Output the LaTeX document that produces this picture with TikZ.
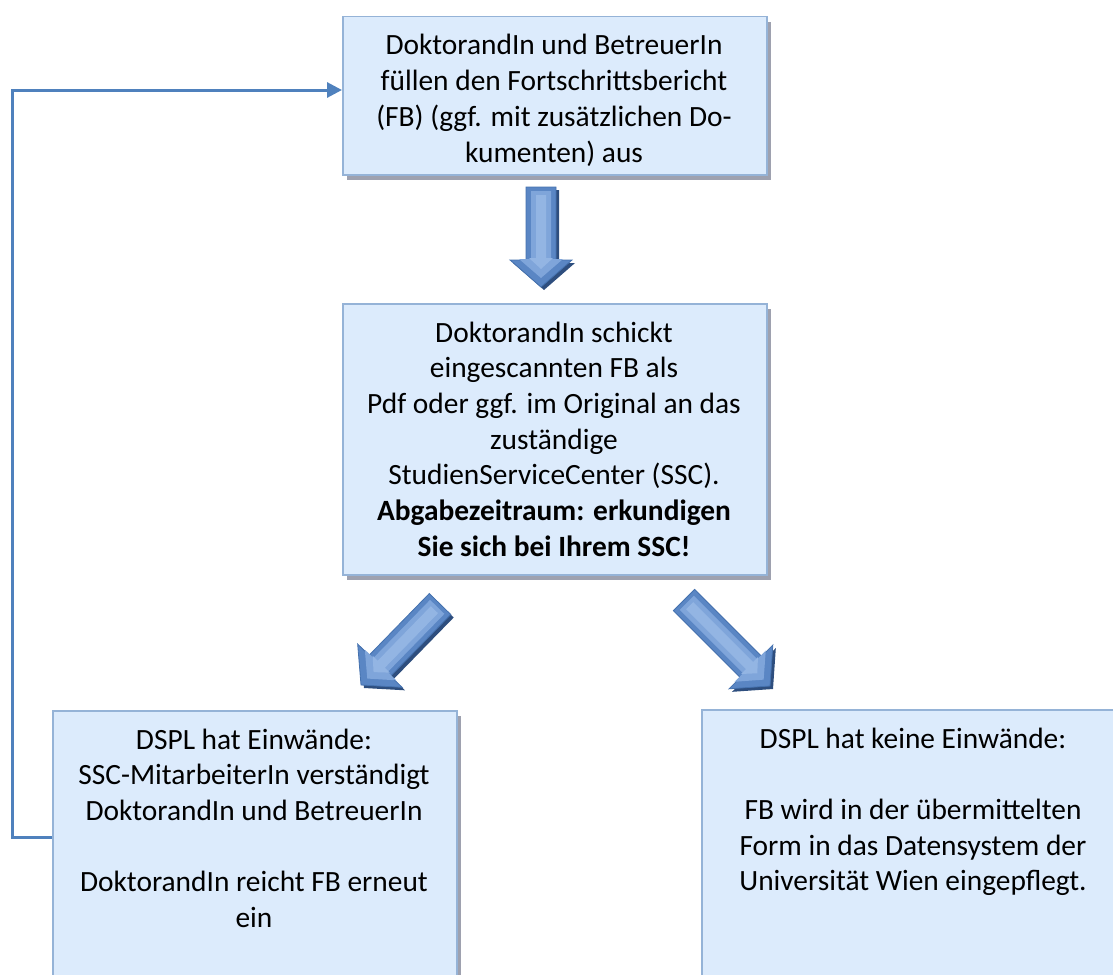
\documentclass[tikz,border=0pt]{standalone}
\usepackage{fontspec}
\setmainfont{Carlito}
\usetikzlibrary{shadows,arrows.meta,calc}
\definecolor{boxfill}{HTML}{DCEBFC}
\definecolor{boxdraw}{HTML}{95B3D7}
\definecolor{shadowgray}{HTML}{9EA1AF}
\definecolor{fbblue}{HTML}{4F81BD}
\definecolor{arrmid}{HTML}{5A86C4}
\definecolor{arrlight}{HTML}{7FA5DA}
\definecolor{arrlighter}{HTML}{93B5E3}
\definecolor{arredge}{HTML}{4471AE}
\definecolor{arrshadow}{HTML}{2E4E7E}
\tikzset{
  box/.style={draw=boxdraw, line width=1.5pt, fill=boxfill, rectangle, inner sep=0pt, anchor=north west,
    drop shadow={shadow xshift=4pt, shadow yshift=-5pt, fill=shadowgray, opacity=1}},
  txt/.style={anchor=base, inner sep=0pt, font=\fontsize{29.4}{35.7}\selectfont},
  fbline/.style={draw=fbblue, line width=3pt, -{Triangle[length=15pt,width=15pt]}},
  blockarrow/.style={draw=arredge, line width=0.8pt, fill=arrmid},
  blockhi/.style={fill=arrlight, draw=none},
  blockhi2/.style={fill=arrlighter, draw=none},
  blockshadow/.style={fill=arrshadow, draw=none}
}
% #1 tail, #2 tip, #3 shaft half width, #4 head half width, #5 head length
\newcommand{\blockarrowpath}[5]{%
  ($(#1)!#3!90:(#2)$) -- ($($(#2)!#5!(#1)$)!#3!-90:(#1)$) -- ($($(#2)!#5!(#1)$)!#4!-90:(#1)$) -- (#2)
  -- ($($(#2)!#5!(#1)$)!#4!90:(#1)$) -- ($($(#2)!#5!(#1)$)!#3!90:(#1)$) -- ($(#1)!#3!-90:(#2)$) -- cycle}
% #1 tail, #2 tip, #3 shadow tail, #4 shadow tip
\newcommand{\fancyarrow}[4]{%
  \fill[blockshadow] \blockarrowpath{#3}{#4}{15pt}{31pt}{27pt};
  \path[blockarrow] \blockarrowpath{#1}{#2}{15pt}{31pt}{27pt};
  \fill[blockhi] \blockarrowpath{$(#1)!4pt!(#2)$}{$(#2)!9pt!(#1)$}{10pt}{22pt}{19pt};
  \fill[blockhi2] \blockarrowpath{$(#1)!8pt!(#2)$}{$(#2)!18pt!(#1)$}{5pt}{12pt}{11pt};
}
\begin{document}
\begin{tikzpicture}[x=1pt,y=-1pt]
\useasboundingbox (0,0) rectangle (1113,974);
\clip (0,0) rectangle (1113,974);

% boxes
\node[box, minimum width=424pt, minimum height=158pt] (top) at (342,16) {};
\node[box, minimum width=424pt, minimum height=271pt] (mid) at (342,303) {};
\node[box, minimum width=404pt, minimum height=300pt] (bl) at (52,710) {};
\node[box, minimum width=430pt, minimum height=300pt] (br) at (701,709) {};

% texts
\node[txt] (toptext) at (554,55) {\begin{tabular}[t]{@{}c@{}}DoktorandIn und BetreuerIn\\ füllen den Fortschrittsbericht\\ (FB) (ggf. mit zusätzlichen Do-\\ kumenten) aus\end{tabular}};
\node[txt] (midtext) at (554,342) {\begin{tabular}[t]{@{}c@{}}DoktorandIn schickt\\ eingescannten FB als\\ Pdf oder ggf. im Original an das\\ zuständige\\ StudienServiceCenter (SSC).\\ \textbf{Abgabezeitraum: erkundigen}\\ \textbf{Sie sich bei Ihrem SSC!}\end{tabular}};
\node[txt] (bltext) at (254,749) {\begin{tabular}[t]{@{}c@{}}DSPL hat Einwände:\\ SSC-MitarbeiterIn verständigt\\ DoktorandIn und BetreuerIn\\ \\ DoktorandIn reicht FB erneut\\ ein\end{tabular}};
\node[txt] (brtext) at (913,748) {\begin{tabular}[t]{@{}c@{}}DSPL hat keine Einwände:\\ \\ FB wird in der übermittelten\\ Form in das Datensystem der\\ Universität Wien eingepflegt.\end{tabular}};

% block arrow end points
\coordinate (dT) at (541,187);  \coordinate (dP) at (541,287);
\coordinate (dTs) at (544,190); \coordinate (dPs) at (544,290);
\coordinate (lT) at (440,604);  \coordinate (lP) at (361,685);
\coordinate (lTs) at (443,607); \coordinate (lPs) at (364,688);
\coordinate (rT) at (684,600);  \coordinate (rP) at (770,686);
\coordinate (rTs) at (687,603); \coordinate (rPs) at (773,689);

\fancyarrow{dT}{dP}{dTs}{dPs}
\fancyarrow{lT}{lP}{lTs}{lPs}
\fancyarrow{rT}{rP}{rTs}{rPs}

% feedback connector
\coordinate (fbA) at (12,837);
\coordinate (fbB) at (12,90);
\draw[fbline] (bl.west |- fbA) -- (fbA) -- (fbB) -- (top.west |- fbB);
\end{tikzpicture}
\end{document}
